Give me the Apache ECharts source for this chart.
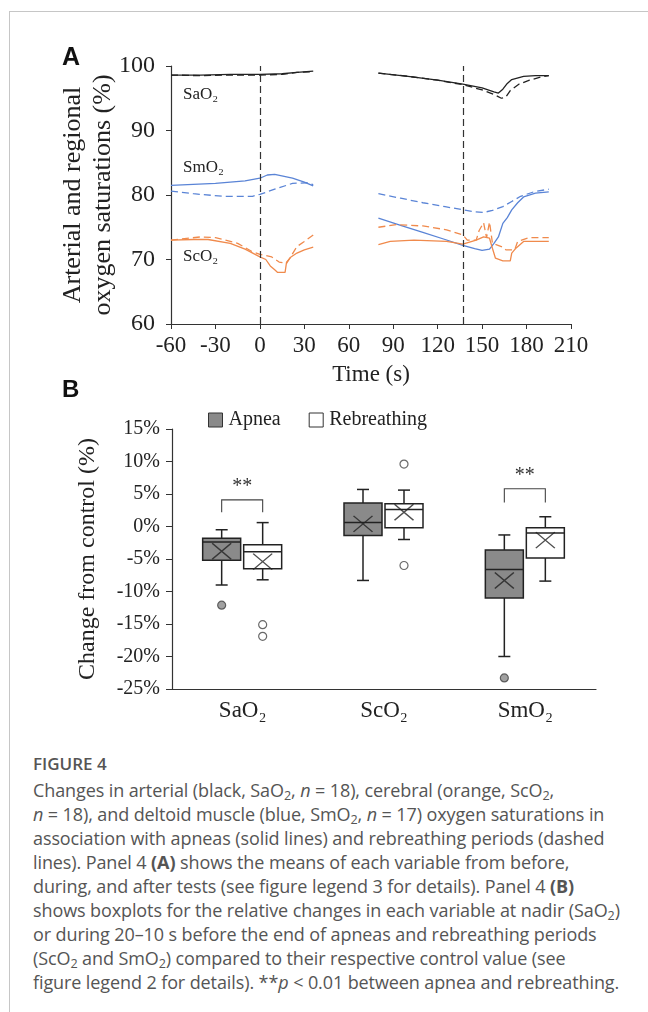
<!DOCTYPE html>
<html>
<head>
<meta charset="utf-8">
<script src="https://cdn.jsdelivr.net/npm/echarts@6/dist/echarts.min.js"></script>
<style>
  html, body { margin: 0; padding: 0; background: #fff; }
  #page { position: relative; width: 648px; height: 1012px; overflow: hidden; }
  #frame { position: absolute; left: 9px; top: 11px; width: 700px; height: 1100px;
           border-left: 1px solid #c6c6c6; border-top: 1px solid #c6c6c6; }
  #chart { position: absolute; left: 0; top: 0; width: 648px; height: 745px; }
  #caption { position: absolute; left: 33px; top: 752px; color: #555;
             font-family: "Open Sans", Lato, sans-serif; font-size: 18px; line-height: 24px;
             white-space: nowrap; letter-spacing: -0.1px; }
  #caption .title { font-weight: 600; font-size: 17px; margin-bottom: 2px; letter-spacing: 0; }
  #caption sub { font-size: 0.7em; line-height: 0; vertical-align: -0.25em; }
</style>
</head>
<body>
<div id="page">
  <div id="frame"></div>
  <div id="chart"></div>
  <div id="caption">
    <div class="title">FIGURE 4</div>
    <div>Changes in arterial (black, SaO<sub>2</sub>, <i>n</i> = 18), cerebral (orange, ScO<sub>2</sub>,</div>
    <div><i>n</i> = 18), and deltoid muscle (blue, SmO<sub>2</sub>, <i>n</i> = 17) oxygen saturations in</div>
    <div>association with apneas (solid lines) and rebreathing periods (dashed</div>
    <div>lines). Panel 4 <b>(A)</b> shows the means of each variable from before,</div>
    <div>during, and after tests (see figure legend 3 for details). Panel 4 <b>(B)</b></div>
    <div>shows boxplots for the relative changes in each variable at nadir (SaO<sub>2</sub>)</div>
    <div>or during 20–10 s before the end of apneas and rebreathing periods</div>
    <div>(ScO<sub>2</sub> and SmO<sub>2</sub>) compared to their respective control value (see</div>
    <div>figure legend 2 for details). **<i>p</i> &lt; 0.01 between apnea and rebreathing.</div>
  </div>
</div>
<script>
// ---- panel A: mean time courses [time (s), saturation (%)] ----
const eventTimes = [0, 137] // start of test / end of test

const saoApneaPre = [[-60, 98.6], [-40, 98.6], [-20, 98.7], [0, 98.7], [15, 98.8], [25, 99.0], [36, 99.2]]
const saoRebreathPre = [[-60, 98.6], [-40, 98.5], [-20, 98.6], [0, 98.6], [15, 98.7], [25, 99.0], [36, 99.1]]
const saoApneaPost = [[80, 98.9], [100, 98.4], [120, 97.8], [137, 97.2], [150, 96.6], [158, 96.0], [161, 95.8],
  [164, 96.4], [167, 97.3], [170, 97.9], [178, 98.4], [186, 98.5], [195, 98.5]]
const saoRebreathPost = [[80, 98.9], [100, 98.4], [120, 97.8], [137, 97.1], [150, 96.3], [158, 95.6], [163, 95.0],
  [166, 95.2], [169, 96.2], [175, 97.2], [182, 97.8], [190, 98.3], [195, 98.5]]

const smoApneaPre = [[-60, 81.5], [-30, 81.8], [-10, 82.2], [0, 82.6], [5, 83.1], [10, 83.2], [22, 82.6], [30, 82.0], [36, 81.4]]
const smoRebreathPre = [[-60, 80.6], [-45, 80.2], [-25, 79.8], [-5, 79.8], [0, 80.1], [10, 80.9], [22, 81.8], [32, 81.9], [36, 81.6]]
const smoApneaPost = [[80, 76.4], [95, 75.3], [110, 74.2], [125, 73.1], [137, 72.2], [145, 71.7], [150, 71.4], [155, 71.6],
  [158, 72.5], [161, 73.5], [164, 75.6], [167, 76.5], [170, 77.7], [174, 78.8], [178, 79.7], [186, 80.3], [195, 80.5]]
const smoRebreathPost = [[80, 80.2], [95, 79.5], [110, 78.8], [125, 78.2], [137, 77.7], [145, 77.4], [151, 77.3], [157, 77.6],
  [164, 78.2], [170, 79.0], [176, 79.8], [185, 80.5], [195, 80.9]]

const scoApneaPre = [[-60, 73.0], [-45, 73.1], [-35, 73.1], [-20, 72.5], [-10, 71.6], [0, 70.4], [4, 70.0], [7, 69.0],
  [10, 68.4], [12, 68.0], [17, 68.0], [18, 69.6], [21, 70.4], [25, 71.0], [30, 71.5], [36, 71.9]]
const scoRebreathPre = [[-60, 73.0], [-40, 73.5], [-30, 73.4], [-15, 72.5], [-5, 71.2], [0, 70.8], [8, 70.4], [13, 69.6],
  [18, 69.4], [21, 70.5], [25, 72.0], [30, 72.8], [36, 73.8]]
const scoApneaPost = [[80, 72.3], [88, 72.8], [104, 73.0], [126, 72.8], [137, 72.4], [146, 73.0], [151, 73.5], [155, 73.3],
  [156.5, 72.1], [159, 70.2], [164, 69.8], [169, 69.8], [170, 71.0], [173, 71.8], [178, 72.8], [195, 72.8]]
const scoRebreathPost = [[80, 75.0], [92, 75.4], [110, 75.2], [126, 74.6], [137, 73.8], [140, 73.0], [146, 73.0], [148, 74.5],
  [151, 75.7], [153, 73.4], [155, 75.8], [157, 72.5], [163, 72.0], [166, 71.5], [172, 71.5], [174, 72.8], [182, 73.4], [195, 73.4]]

// ---- panel B: boxplots, change from control (%) ----
const boxCategories = ['SaO₂', 'ScO₂', 'SmO₂']
// [category, min, Q1, median, Q3, max]
const apneaBox = [[0, -9.0, -5.2, -2.4, -1.8, -0.5], [1, -8.3, -1.4, 0.6, 3.6, 5.7], [2, -20.0, -11.0, -6.6, -3.6, -1.3]]
const rebreathBox = [[0, -8.2, -6.5, -3.9, -2.8, 0.6], [1, -2.0, -0.2, 2.6, 3.5, 5.6], [2, -8.4, -4.85, -1.0, -0.2, 1.5]]
const apneaMean = [[0, -3.8], [1, 0.4], [2, -8.3]]
const rebreathMean = [[0, -5.4], [1, 2.2], [2, -2.1]]
const apneaOutliers = [[0, -12.1], [2, -23.3]]
const rebreathOutliers = [[0, -15.1], [0, -16.9], [1, 9.6], [1, -6.0]]
// [category, bracket foot, bracket top]
const sigBrackets = [[0, 2.2, 4.1], [2, 3.7, 5.8]]

const serif = '"Liberation Serif", "Times New Roman", serif'
const ink = '#222'
const blue = '#5a84d6'
const orange = '#f08a4c'
const apneaGray = '#8a8a8a'
const APNEA_DX = -21
const REBREATH_DX = 20
const HALF_BOX = 19

function trace(data, color, dashed, extra) {
  return Object.assign({
    type: 'line', xAxisIndex: 0, yAxisIndex: 0, data: data,
    symbol: 'none', silent: true, animation: false,
    lineStyle: { color: color, width: 1.3, type: dashed ? [7, 4] : 'solid' }
  }, extra || {})
}

function boxRenderer(dx, fill) {
  return function (params, api) {
    const cat = api.value(0)
    const pt = k => api.coord([cat, api.value(k)])
    const x = pt(1)[0] + dx
    const yMin = pt(1)[1], yQ1 = pt(2)[1], yMed = pt(3)[1], yQ3 = pt(4)[1], yMax = pt(5)[1]
    const st = { stroke: ink, lineWidth: 1.5, fill: 'none' }
    const cap = 6
    return {
      type: 'group',
      children: [
        { type: 'line', shape: { x1: x, y1: yMax, x2: x, y2: yQ3 }, style: st },
        { type: 'line', shape: { x1: x - cap, y1: yMax, x2: x + cap, y2: yMax }, style: st },
        { type: 'line', shape: { x1: x, y1: yQ1, x2: x, y2: yMin }, style: st },
        { type: 'line', shape: { x1: x - cap, y1: yMin, x2: x + cap, y2: yMin }, style: st },
        { type: 'rect', shape: { x: x - HALF_BOX, y: yQ3, width: HALF_BOX * 2, height: yQ1 - yQ3 },
          style: { stroke: ink, lineWidth: 1.5, fill: fill } },
        { type: 'line', shape: { x1: x - HALF_BOX, y1: yMed, x2: x + HALF_BOX, y2: yMed }, style: st }
      ]
    }
  }
}

function bracketRenderer(params, api) {
  const cat = api.value(0)
  const foot = api.coord([cat, api.value(1)])
  const top = api.coord([cat, api.value(2)])
  const x1 = foot[0] + APNEA_DX, x2 = foot[0] + REBREATH_DX
  return {
    type: 'group',
    children: [
      { type: 'polyline', shape: { points: [[x1, foot[1]], [x1, top[1]], [x2, top[1]], [x2, foot[1]]] },
        style: { stroke: '#444', lineWidth: 1.1, fill: 'none' } },
      { type: 'text', x: (x1 + x2) / 2, y: top[1] - 3,
        style: { text: '**', font: '20px ' + serif, fill: '#333', align: 'center', verticalAlign: 'bottom' } }
    ]
  }
}

const xMark = 'path://M0,0L20,17M20,0L0,17'

const chart = echarts.init(document.getElementById('chart'))
chart.setOption({
  animation: false,
  textStyle: { fontFamily: serif },
  graphic: [
    { type: 'text', left: 62, top: 46, style: { text: 'A', font: 'bold 25px "Liberation Sans", Arial, sans-serif', fill: '#111' } },
    { type: 'text', left: 62, top: 378, style: { text: 'B', font: 'bold 24px "Liberation Sans", Arial, sans-serif', fill: '#111' } },
    { type: 'text', left: 183, top: 86, style: { text: 'SaO₂', font: '17px ' + serif, fill: ink } },
    { type: 'text', left: 183, top: 159, style: { text: 'SmO₂', font: '17px ' + serif, fill: ink } },
    { type: 'text', left: 183, top: 248, style: { text: 'ScO₂', font: '17px ' + serif, fill: ink } }
  ],
  legend: {
    data: [
      { name: 'Apnea', itemStyle: { color: apneaGray, borderColor: '#333', borderWidth: 1 } },
      { name: 'Rebreathing', itemStyle: { color: '#fff', borderColor: '#333', borderWidth: 1 } }
    ],
    left: 203, top: 405, icon: 'rect', itemWidth: 14, itemHeight: 14, itemGap: 28,
    textStyle: { fontFamily: serif, fontSize: 20, color: ink, padding: [0, 0, 0, 1] },
    selectedMode: false
  },
  grid: [
    { left: 171, top: 66, width: 400, height: 258 },
    { left: 172, top: 429, width: 424, height: 260 }
  ],
  xAxis: [
    {
      gridIndex: 0, type: 'value', min: -60, max: 210, interval: 30,
      name: 'Time (s)', nameLocation: 'middle', nameGap: 39, nameMoveOverlap: false,
      nameTextStyle: { fontFamily: serif, fontSize: 23, color: ink },
      axisLine: { onZero: false, lineStyle: { color: '#333', width: 1.2 } },
      axisTick: { length: 5, lineStyle: { color: '#333' } },
      axisLabel: { fontFamily: serif, fontSize: 23, color: ink, margin: 10 },
      splitLine: { show: false }
    },
    {
      gridIndex: 1, type: 'category', data: boxCategories, boundaryGap: true,
      axisLine: { onZero: false, lineStyle: { color: '#333', width: 1.2 } },
      axisTick: { length: 6, lineStyle: { color: '#333' } },
      axisLabel: { fontFamily: serif, fontSize: 23, color: ink, margin: 10 },
      splitLine: { show: false }
    }
  ],
  yAxis: [
    {
      gridIndex: 0, type: 'value', min: 60, max: 100, interval: 10,
      name: 'Arterial and regional\noxygen saturations (%)', nameLocation: 'middle', nameGap: 53,
      nameMoveOverlap: false,
      nameTextStyle: { fontFamily: serif, fontSize: 26, color: ink, lineHeight: 30 },
      axisLine: { show: true, onZero: false, lineStyle: { color: '#333', width: 1.2 } },
      axisTick: { show: true, length: 5, lineStyle: { color: '#333' } },
      axisLabel: { fontFamily: serif, fontSize: 24, color: ink, margin: 16 },
      splitLine: { show: false }
    },
    {
      gridIndex: 1, type: 'value', min: -25, max: 15, interval: 5,
      name: 'Change from control (%)', nameLocation: 'middle', nameGap: 72, nameMoveOverlap: false,
      nameTextStyle: { fontFamily: serif, fontSize: 24, color: ink },
      axisLine: { show: true, onZero: false, lineStyle: { color: '#333', width: 1.2 } },
      axisTick: { show: true, length: 6, lineStyle: { color: '#333' } },
      axisLabel: { fontFamily: serif, fontSize: 20, color: ink, margin: 12, formatter: '{value}%' },
      splitLine: { show: false }
    }
  ],
  series: [
    trace(saoApneaPre, ink, false, {
      markLine: {
        silent: true, symbol: 'none', label: { show: false },
        lineStyle: { color: '#333', width: 1.2, type: [7, 4] },
        data: eventTimes.map(t => ({ xAxis: t }))
      }
    }),
    trace(saoRebreathPre, ink, true),
    trace(saoApneaPost, ink, false),
    trace(saoRebreathPost, ink, true),
    trace(smoApneaPre, blue, false),
    trace(smoRebreathPre, blue, true),
    trace(smoApneaPost, blue, false),
    trace(smoRebreathPost, blue, true),
    trace(scoApneaPre, orange, false),
    trace(scoRebreathPre, orange, true),
    trace(scoApneaPost, orange, false),
    trace(scoRebreathPost, orange, true),
    {
      name: 'Apnea', type: 'custom', xAxisIndex: 1, yAxisIndex: 1, data: apneaBox,
      encode: { x: 0, y: [1, 2, 3, 4, 5] }, renderItem: boxRenderer(APNEA_DX, apneaGray),
      itemStyle: { color: apneaGray }
    },
    {
      name: 'Rebreathing', type: 'custom', xAxisIndex: 1, yAxisIndex: 1, data: rebreathBox,
      encode: { x: 0, y: [1, 2, 3, 4, 5] }, renderItem: boxRenderer(REBREATH_DX, '#fff'),
      itemStyle: { color: '#fff' }
    },
    {
      name: 'apnea mean', type: 'scatter', xAxisIndex: 1, yAxisIndex: 1, data: apneaMean,
      symbol: xMark, symbolSize: [19, 16], symbolOffset: [APNEA_DX, 0],
      itemStyle: { color: 'rgba(0,0,0,0)', borderColor: ink, borderWidth: 1.4 }
    },
    {
      name: 'rebreathing mean', type: 'scatter', xAxisIndex: 1, yAxisIndex: 1, data: rebreathMean,
      symbol: xMark, symbolSize: [19, 16], symbolOffset: [REBREATH_DX, 0],
      itemStyle: { color: 'rgba(0,0,0,0)', borderColor: ink, borderWidth: 1.4 }
    },
    {
      name: 'apnea outliers', type: 'scatter', xAxisIndex: 1, yAxisIndex: 1, data: apneaOutliers,
      symbol: 'circle', symbolSize: 8, symbolOffset: [APNEA_DX, 0],
      itemStyle: { color: apneaGray, borderColor: '#444', borderWidth: 1.2 }
    },
    {
      name: 'rebreathing outliers', type: 'scatter', xAxisIndex: 1, yAxisIndex: 1, data: rebreathOutliers,
      symbol: 'circle', symbolSize: 8, symbolOffset: [REBREATH_DX, 0],
      itemStyle: { color: '#fff', borderColor: '#444', borderWidth: 1.2 }
    },
    {
      name: 'significance', type: 'custom', xAxisIndex: 1, yAxisIndex: 1, data: sigBrackets,
      encode: { x: 0, y: [1, 2] }, renderItem: bracketRenderer, silent: true
    }
  ]
})
</script>
</body>
</html>
